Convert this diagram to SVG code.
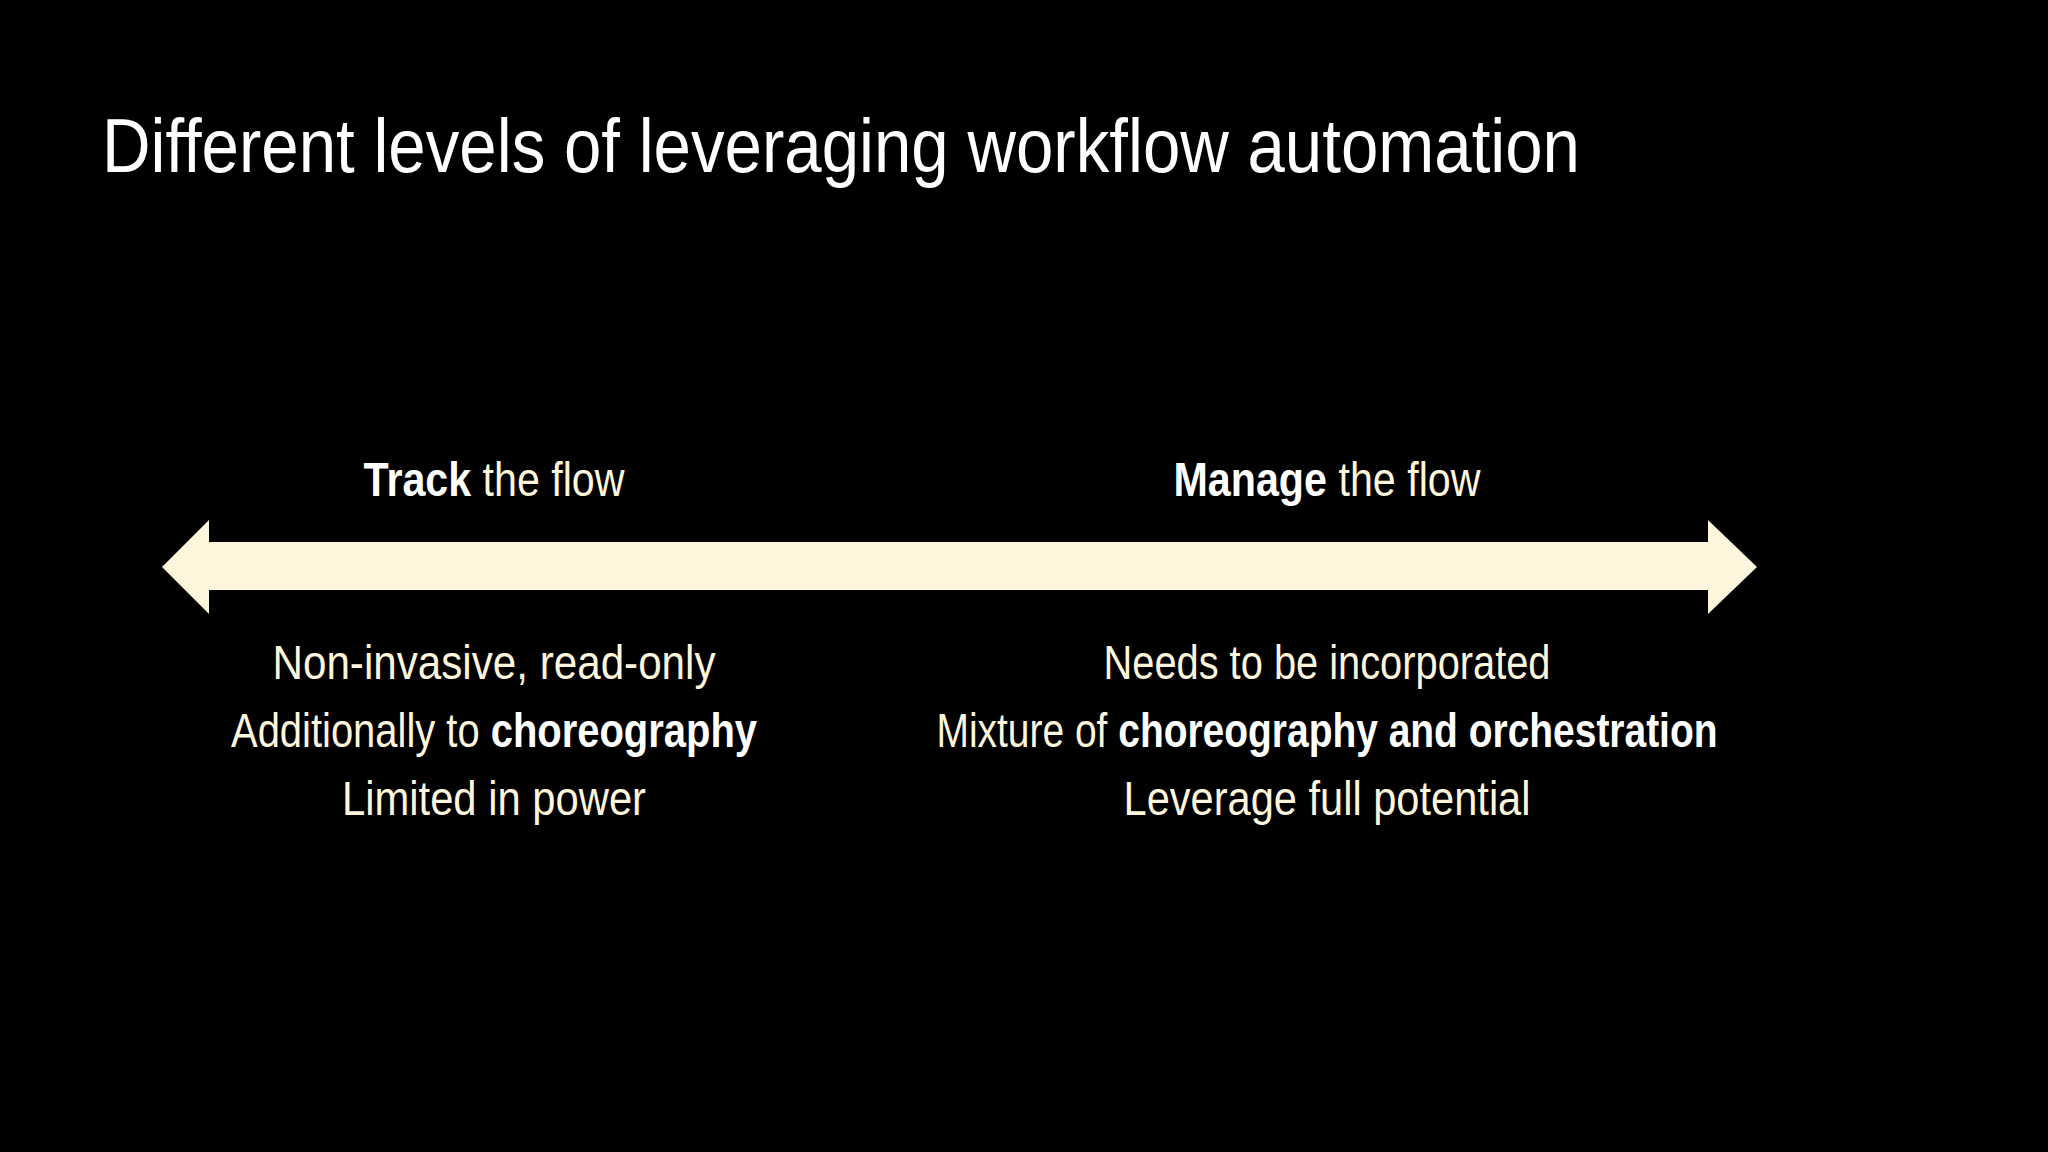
<svg xmlns="http://www.w3.org/2000/svg" width="2048" height="1152" viewBox="0 0 2048 1152">
<style>
.t{font-family:"Liberation Sans Narrow","Liberation Sans",sans-serif;fill:#fdf6dc;text-anchor:middle;font-size:48px}
.b{font-weight:bold;fill:#ffffff}
.h{font-family:"Liberation Sans Narrow","Liberation Sans",sans-serif;fill:#ffffff;font-size:76px}
</style>
<rect width="2048" height="1152" fill="#000"/>
<text class="h" x="102" y="172" textLength="1478" lengthAdjust="spacingAndGlyphs">Different levels of leveraging workflow automation</text>
<g id="connectors">
<polygon points="162,567 209,520 209,542 1708,542 1708,520 1757,567 1708,614 1708,590 209,590 209,614" fill="#fdf6dc"/>
</g>
<g id="track">
<text class="t" x="494" y="496" textLength="261" lengthAdjust="spacingAndGlyphs"><tspan class="b">Track</tspan> the flow</text>
<text class="t" x="494" y="679" textLength="443" lengthAdjust="spacingAndGlyphs">Non-invasive, read-only</text>
<text class="t" x="494" y="747" textLength="526" lengthAdjust="spacingAndGlyphs">Additionally to <tspan class="b">choreography</tspan></text>
<text class="t" x="494" y="815" textLength="304" lengthAdjust="spacingAndGlyphs">Limited in power</text>
</g>
<g id="manage">
<text class="t" x="1327" y="496" textLength="307" lengthAdjust="spacingAndGlyphs"><tspan class="b">Manage</tspan> the flow</text>
<text class="t" x="1327" y="679" textLength="447" lengthAdjust="spacingAndGlyphs">Needs to be incorporated</text>
<text class="t" x="1327" y="747" textLength="781" lengthAdjust="spacingAndGlyphs">Mixture of <tspan class="b">choreography and orchestration</tspan></text>
<text class="t" x="1327" y="815" textLength="407" lengthAdjust="spacingAndGlyphs">Leverage full potential</text>
</g>
</svg>
